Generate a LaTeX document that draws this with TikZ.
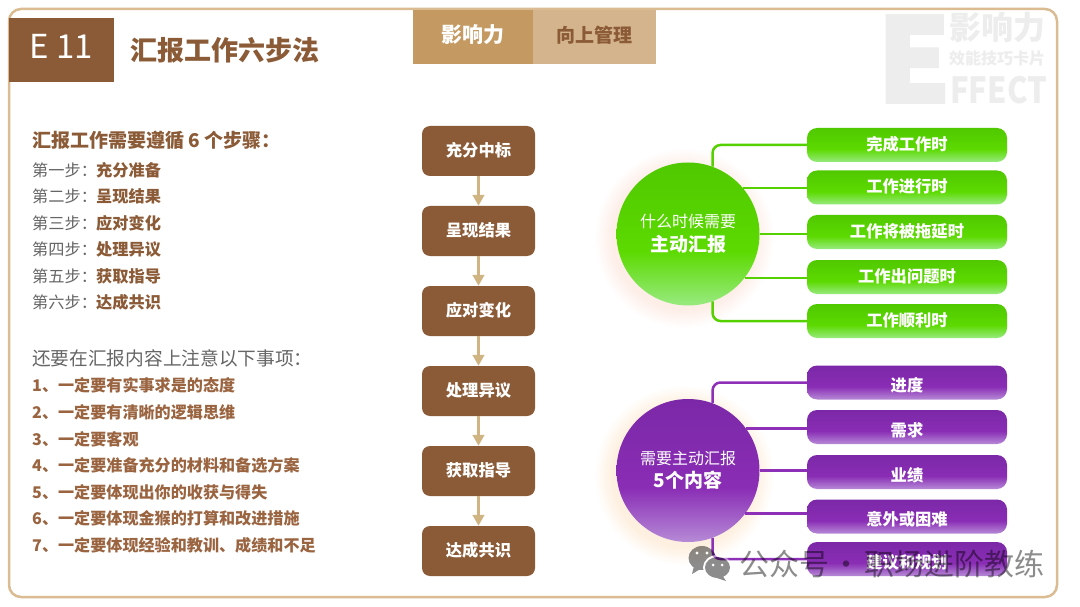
\documentclass[tikz,border=0pt]{standalone}
\usepackage{fontspec}
\setmainfont{Noto Sans CJK SC}
\newfontfamily\markheavy[FakeBold=3]{Noto Sans CJK SC}
\usetikzlibrary{positioning,arrows.meta}
\definecolor{brownMain}{HTML}{8B5A36}
\definecolor{brownList}{HTML}{9A6440}
\definecolor{frameTan}{HTML}{DABB92}
\definecolor{tabDark}{HTML}{C49A62}
\definecolor{tabLight}{HTML}{D4B48C}
\definecolor{arrowTan}{HTML}{D0B583}
\definecolor{markGray}{HTML}{EDEDED}
\definecolor{textGray}{HTML}{666666}
\definecolor{greenLine}{HTML}{55D000}
\definecolor{purpleLine}{HTML}{8E2FB8}
\definecolor{greenLow}{HTML}{98EA80}
\definecolor{greenMid}{HTML}{5CDA00}
\definecolor{greenTop}{HTML}{50C800}
\definecolor{purpleLow}{HTML}{B68AD6}
\definecolor{purpleMid}{HTML}{8A2DB5}
\definecolor{purpleTop}{HTML}{7B28A8}
\definecolor{glowPink}{HTML}{FDEEE8}
\definecolor{glowTan}{HTML}{FEF0E0}
\newcommand{\fsz}[1]{\fontsize{#1}{#1}\selectfont}
\pgfdeclareverticalshading{greenfill}{100bp}{color(0bp)=(greenLow); color(25bp)=(greenLow); color(44bp)=(greenMid); color(75bp)=(greenTop); color(100bp)=(greenTop)}
\pgfdeclareverticalshading{purplefill}{100bp}{color(0bp)=(purpleLow); color(25bp)=(purpleLow); color(44bp)=(purpleMid); color(75bp)=(purpleTop); color(100bp)=(purpleTop)}
\pgfdeclareradialshading{greenglow}{\pgfpoint{0bp}{0bp}}{color(0bp)=(glowPink); color(20bp)=(glowPink); color(25bp)=(white); color(50bp)=(white)}
\pgfdeclareradialshading{purpleglow}{\pgfpoint{0bp}{0bp}}{color(0bp)=(glowTan); color(20bp)=(glowTan); color(25bp)=(white); color(50bp)=(white)}
\tikzset{
  stepbox/.style={draw=none,fill=brownMain,rounded corners=8,minimum width=113,minimum height=50,inner sep=0,text=white,font=\fsz{16.3}\bfseries,text height=11.3,text depth=1},
  flowarrow/.style={draw=arrowTan,line width=3.5,-{Triangle[length=11,width=11.5]}},
  headline/.style={anchor=west,inner sep=0,text=brownMain,font=\fsz{19}\bfseries},
  plainline/.style={anchor=west,inner sep=0,text=textGray,font=\fsz{16.2}},
  boldline/.style={anchor=west,inner sep=0,text=brownMain,font=\fsz{16.2}\bfseries},
  listline/.style={anchor=west,inner sep=0,text=brownList,font=\fsz{16.1}\bfseries},
  greenbar/.style={rounded corners=10,minimum width=200,minimum height=34,inner sep=0,shading=greenfill,text=white,font=\fsz{16.3}\bfseries,text height=11.6,text depth=1},
  purplebar/.style={rounded corners=10,minimum width=200,minimum height=34,inner sep=0,shading=purplefill,text=white,font=\fsz{16.3}\bfseries,text height=18.3,text depth=0},
  greenlink/.style={draw=greenLine,line width=2.5,rounded corners=8},
  purplelink/.style={draw=purpleLine,line width=2.5,rounded corners=8},
  markstyle/.style={inner sep=0,text=markGray,font=\bfseries},
}
\begin{document}
\begin{tikzpicture}[x=1pt,y=-1pt]
  \path[use as bounding box,fill=white] (0,0) rectangle (1080,607);
  \draw[frameTan,line width=2.5,rounded corners=12] (9,9) rectangle (1057,597);
  % title and tabs
  \node[fill=brownMain,minimum width=105,minimum height=64,inner sep=0,text=white,font=\fsz{33},text height=18,text depth=0] (code) at (61.5,50) {E 11};
  \node[anchor=west,inner sep=0,text=brownMain,font=\fsz{27}\bfseries] (title) at (130,50) {汇报工作六步法};
  \node[fill=tabDark,minimum width=120,minimum height=54,inner sep=0,text=white,font=\fsz{21}\bfseries,text height=13,text depth=1] (tabA) at (473,37) {影响力};
  \node[fill=tabLight,minimum width=123,minimum height=54,inner sep=0,text=brownMain,font=\fsz{19}\bfseries,text height=11.4,text depth=1] (tabB) at (594.5,37) {向上管理};
  % grey mark, top right
  \node[markstyle,font=\fsz{116}\markheavy\bfseries] (markE) at (914,59) {E};
  \node[markstyle,anchor=west,font=\fsz{32}\bfseries] (markA) at (949,27) {影响力};
  \node[markstyle,anchor=west,font=\fsz{16}\bfseries] (markB) at (949,58) {效能技巧卡片};
  \node[markstyle,anchor=west,font=\fsz{36}\bfseries] (markC) at (950,90) {\scalebox{.86}[1]{FFECT}};
  % left text
  \node[headline] (head) at (32,140) {汇报工作需要遵循 6 个步骤：};
  \node[plainline] (s1) at (32,170) {第一步：};
  \node[plainline] (s2) at (32,196) {第二步：};
  \node[plainline] (s3) at (32,223) {第三步：};
  \node[plainline] (s4) at (32,249) {第四步：};
  \node[plainline] (s5) at (32,276) {第五步：};
  \node[plainline] (s6) at (32,302) {第六步：};
  \node[boldline] (b1) at (96,170) {充分准备};
  \node[boldline] (b2) at (96,196) {呈现结果};
  \node[boldline] (b3) at (96,223) {应对变化};
  \node[boldline] (b4) at (96,249) {处理异议};
  \node[boldline] (b5) at (96,276) {获取指导};
  \node[boldline] (b6) at (96,302) {达成共识};
  \node[plainline,font=\fsz{18.7}] (note) at (32,358) {还要在汇报内容上注意以下事项：};
  \node[listline] (n1) at (32,385) {1、一定要有实事求是的态度};
  \node[listline] (n2) at (32,412) {2、一定要有清晰的逻辑思维};
  \node[listline] (n3) at (32,439) {3、一定要客观};
  \node[listline] (n4) at (32,465) {4、一定要准备充分的材料和备选方案};
  \node[listline] (n5) at (32,492) {5、一定要体现出你的收获与得失};
  \node[listline] (n6) at (32,518) {6、一定要体现金猴的打算和改进措施};
  \node[listline] (n7) at (32,545) {7、一定要体现经验和教训、成绩和不足};
  % middle flow
  \node[stepbox] (f1) at (478.5,151) {充分中标};
  \node[stepbox] (f2) at (478.5,231) {呈现结果};
  \node[stepbox] (f3) at (478.5,311) {应对变化};
  \node[stepbox] (f4) at (478.5,391) {处理异议};
  \node[stepbox] (f5) at (478.5,471) {获取指导};
  \node[stepbox] (f6) at (478.5,551) {达成共识};
  \begin{scope}[flowarrow]
    \draw (f1) to (f2);
    \draw (f2) to (f3);
    \draw (f3) to (f4);
    \draw (f4) to (f5);
    \draw (f5) to (f6);
  \end{scope}
  % green group
  \shade[shading=greenglow] (684,238) circle (90);
  \node[circle,minimum size=143,inner sep=0,shading=greenfill,text=white,align=center,font=\fsz{16}] (gc) at (688,234)
    {什么时候需要\\[5pt]{\fsz{19}\bfseries 主动汇报}};
  \node[greenbar] (g1) at (907,145) {完成工作时};
  \node[greenbar] (g2) at (907,187.5) {工作进行时};
  \node[greenbar] (g3) at (907,232) {工作将被拖延时};
  \node[greenbar] (g4) at (907,277) {工作出问题时};
  \node[greenbar] (g5) at (907,321) {工作顺利时};
  \begin{scope}[greenlink]
    \draw (gc.70) |- (g1.west);
    \draw (gc.40) -- (gc.40 -| g2.west);
    \draw (gc.east) -- (gc.east -| g3.west);
    \draw (gc.-38) -- (gc.-38 -| g4.west);
    \draw (gc.-70) |- (g5.west);
  \end{scope}
  % purple group
  \shade[shading=purpleglow] (684,475) circle (90);
  \node[circle,minimum size=143,inner sep=0,shading=purplefill,text=white,align=center,font=\fsz{16}] (pc) at (688,470.5)
    {需要主动汇报\\[4pt]{\fsz{19}\bfseries 5个内容}};
  \node[purplebar] (p1) at (907,382.5) {进度};
  \node[purplebar] (p2) at (907,427) {需求};
  \node[purplebar] (p3) at (907,472) {业绩};
  \node[purplebar] (p4) at (907,516.5) {意外或困难};
  \node[purplebar] (p5) at (907,559) {建议和规划};
  \begin{scope}[purplelink]
    \draw (pc.70) |- (p1.west);
    \draw (pc.36) -- (pc.36 -| p2.west);
    \draw (pc.east) -- (pc.east -| p3.west);
    \draw (pc.-37) -- (pc.-37 -| p4.west);
    \draw (pc.-70) |- (p5.west);
  \end{scope}
  % account watermark over the corner
  \begin{scope}[transparency group,opacity=.45]
    \fill[black] (702,558) ellipse (13.5 and 12);
    \fill[black] (694,566) -- (692,574) -- (702,568) -- cycle;
    \fill[white] (717.5,567.5) ellipse (14.5 and 12.5);
    \fill[black] (717.5,567.5) ellipse (12.5 and 10.5);
    \fill[black] (722,575) -- (726,581) -- (714,577) -- cycle;
    \fill[white] (697,553) circle (1.7);
    \fill[white] (707,553) circle (1.7);
    \fill[white] (713,565) circle (1.5);
    \fill[white] (722,565) circle (1.5);
    \node[anchor=west,inner sep=0,text=black,font=\fsz{30}] (wm) at (739,564) {公众号\hspace{-4pt} · \hspace{-4pt}职场进阶教练};
  \end{scope}
\end{tikzpicture}
\end{document}
